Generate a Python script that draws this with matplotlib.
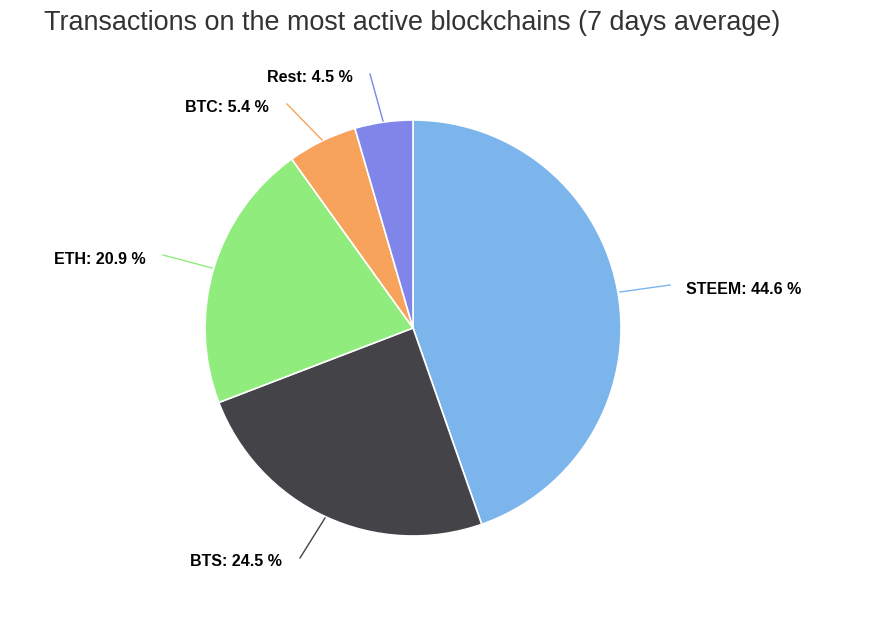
import matplotlib
matplotlib.use("Agg")
import matplotlib.pyplot as plt

labels = ["STEEM", "BTS", "ETH", "BTC", "Rest"]
values = [44.6, 24.5, 20.9, 5.4, 4.5]
colors = ["#7cb5ec", "#434348", "#90ed7d", "#f7a35c", "#8085e9"]

plt.rcParams['font.family'] = ['Liberation Sans', 'DejaVu Sans']
W, H = 884, 619
fig = plt.figure(figsize=(W/100, H/100), dpi=100)
cx, cy, R = 413, 328, 208
ax = fig.add_axes([(cx-R)/W, 1-(cy+R)/H, 2*R/W, 2*R/H])
ax.pie(values, colors=colors, startangle=90, counterclock=False, radius=1,
       wedgeprops=dict(edgecolor="white", linewidth=1.2))
ax.set_xlim(-1, 1); ax.set_ylim(-1, 1); ax.set_aspect('equal'); ax.axis('off')

def d(px, py):
    return ((px-cx)/R, (cy-py)/R)

lab = [
    ((620, 292), (670, 285), (686, 290), 'left'),
    ((325, 518), (300, 558), (282, 561), 'right'),
    ((212, 268), (163, 255), (146, 259), 'right'),
    ((322, 140), (287, 104), (269, 108), 'right'),
    ((383, 121), (370, 74), (353, 78), 'right'),
]
for (s, e, t, ha), name, v, c in zip(lab, labels, values, colors):
    (x0, y0), (x1, y1) = d(*s), d(*e)
    ax.plot([x0, x1], [y0, y1], color=c, lw=1, clip_on=False)
    tx, ty = d(*t)
    ax.text(tx, ty, f"{name}: {v} %", ha=ha, va='center', fontsize=11.5,
            fontweight='bold', color='black', clip_on=False)

fig.text(44/W, 1-23/H, "Transactions on the most active blockchains (7 days average)",
         fontsize=19.4, color="#333333", va='center', ha='left')
fig.savefig("out.png", dpi=100)
